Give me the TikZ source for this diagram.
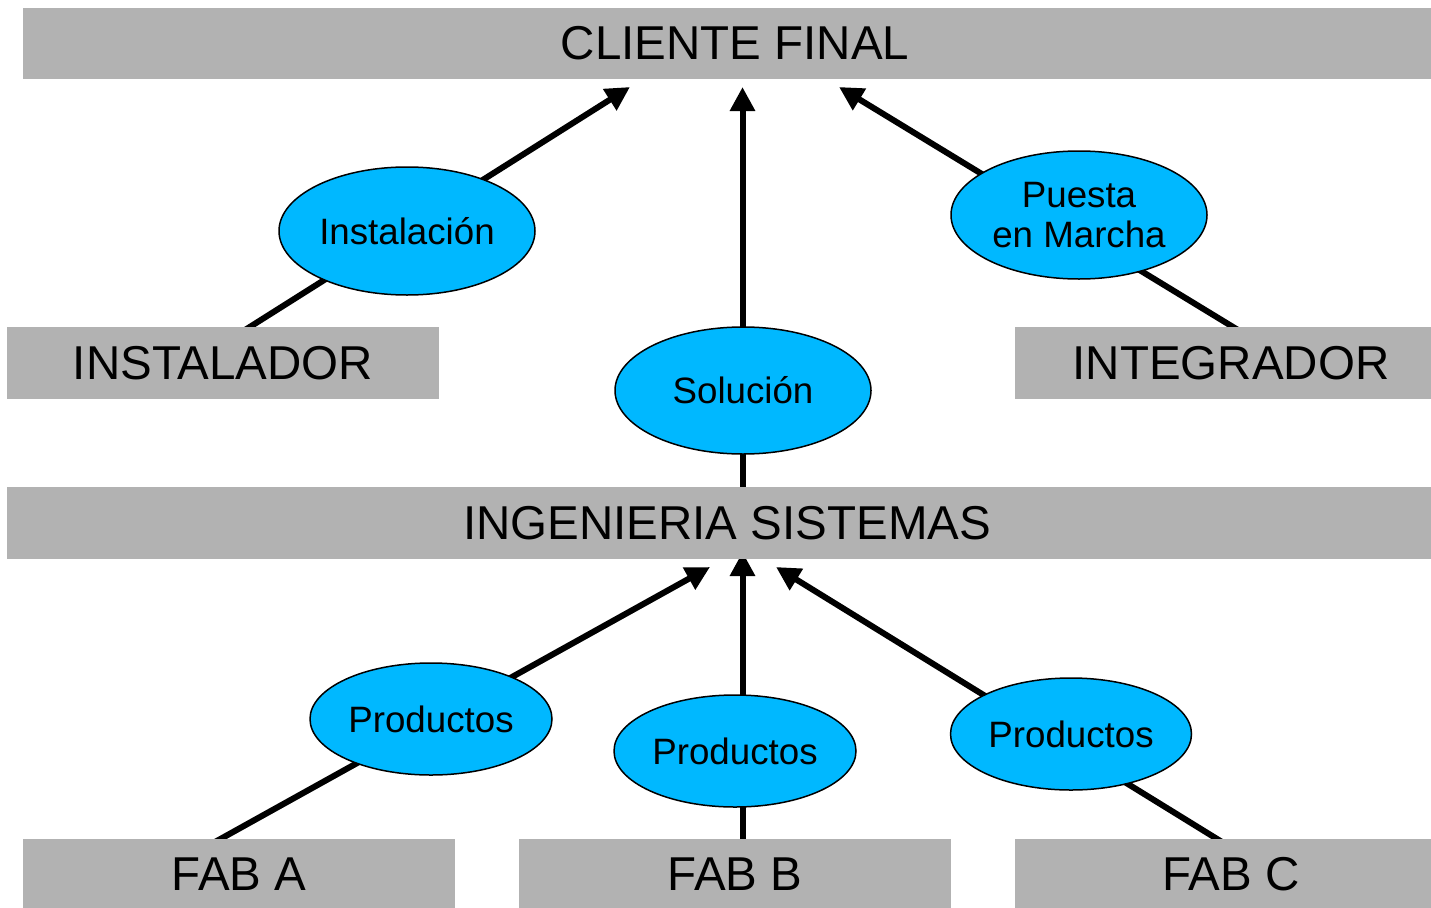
\documentclass[tikz,border=0pt]{standalone}
\usepackage{fontspec}
\setmainfont{Liberation Sans}
\usetikzlibrary{shapes.geometric,arrows.meta,backgrounds}
\definecolor{boxgray}{HTML}{B2B2B2}
\definecolor{ellcyan}{HTML}{00B8FF}
\tikzset{
  graybox/.style={rectangle, fill=boxgray, inner sep=0pt, minimum height=72pt,
    font=\fontsize{47.5}{51}\selectfont},
  bubble/.style={ellipse, draw=black, line width=1.5pt, fill=ellcyan, inner sep=0pt,
    align=center, font=\fontsize{36.7}{40}\selectfont},
  flow/.style={line width=6pt, -{Triangle[length=24pt,width=24pt]}},
}
\begin{document}
\begin{tikzpicture}[x=1pt,y=-1pt]
\useasboundingbox (0,0) rectangle (1431,907);
% boxes
\node[graybox, minimum width=1424pt, minimum height=71pt] (cliente) at (735,43.5) {CLIENTE FINAL};
\node[graybox, minimum width=432pt] (instalador) at (223,363) {INSTALADOR};
\node[graybox, minimum width=432pt] (integrador) at (1231,363) {INTEGRADOR};
\node[graybox, minimum width=1440pt] (ingenieria) at (727,523) {INGENIERIA SISTEMAS};
\node[graybox, minimum width=432pt, minimum height=71pt] (faba) at (239,874.5) {FAB A};
\node[graybox, minimum width=432pt, minimum height=71pt] (fabb) at (735,874.5) {FAB B};
\node[graybox, minimum width=432pt, minimum height=71pt] (fabc) at (1231,874.5) {FAB C};
% connector end points
\coordinate (insS) at (245,330);  \coordinate (insT) at (630,87);
\coordinate (solS) at (742.5,490); \coordinate (solT) at (742.5,87);
\coordinate (pueS) at (1238,330); \coordinate (pueT) at (839,87);
\coordinate (faS) at (215,842);   \coordinate (faT) at (710,567);
\coordinate (fbS) at (742.5,842); \coordinate (fbT) at (742.5,552);
\coordinate (fcS) at (1222,842); \coordinate (fcT) at (776,567);
% connectors (behind everything)
\begin{pgfonlayer}{background}
\draw[flow] (insS) -- (insT);
\draw[flow] (solS) -- (solT);
\draw[flow] (pueS) -- (pueT);
\draw[flow] (faS) -- (faT);
\draw[flow] (fbS) -- (fbT);
\draw[flow] (fcS) -- (fcT);
\end{pgfonlayer}
% ellipses
\node[bubble, minimum width=256pt, minimum height=128pt] (inst) at (407,231) {Instalación};
\node[bubble, minimum width=256pt, minimum height=128pt] (puesta) at (1079,215) {Puesta~\\en Marcha};
\node[bubble, minimum width=256pt, minimum height=127pt] (sol) at (743,390.5) {Solución};
\node[bubble, minimum width=242pt, minimum height=112pt] (prodA) at (431,719) {Productos};
\node[bubble, minimum width=242pt, minimum height=112pt] (prodB) at (735,751) {Productos};
\node[bubble, minimum width=241pt, minimum height=112pt] (prodC) at (1071,734) {Productos};
\end{tikzpicture}
\end{document}
